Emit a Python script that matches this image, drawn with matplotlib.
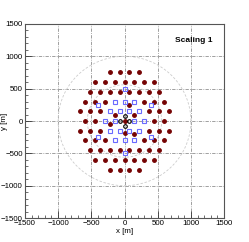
import matplotlib
matplotlib.use("Agg")
import matplotlib.pyplot as plt
import numpy as np

# SST (dark red dots)
sst_x = [-225, -75, 75, 225,
         -450, -300, -150, 0, 150, 300, 450,
         -525, -375, -225, -75, 75, 225, 375, 525,
         -600, -450, -300, 300, 450, 600,
         -675, -525, -375, 375, 525, 675,
         -600, -450, 0, 450, 600,
         -675, -525, -375, 375, 525, 675,
         -600, -450, -300, 300, 450, 600,
         -525, -375, -225, -75, 75, 225, 375, 525,
         -450, -300, -150, 0, 150, 300, 450,
         -225, -75, 75, 225,
         75, -150, 150, -225, 150, 0]
sst_y = [750, 750, 750, 750,
         600, 600, 600, 600, 600, 600, 600,
         450, 450, 450, 450, 450, 450, 450, 450,
         300, 300, 300, 300, 300, 300,
         150, 150, 150, 150, 150, 150,
         0, 0, 0, 0, 0,
         -150, -150, -150, -150, -150, -150,
         -300, -300, -300, -300, -300, -300,
         -450, -450, -450, -450, -450, -450, -450, -450,
         -600, -600, -600, -600, -600, -600, -600,
         -750, -750, -750, -750,
         250, 100, 100, -50, -200, -190]

# MST (blue open squares)
mst_x = [0, -400, 400, -150, 0, 150, -225, -75, 75, 225, -300, -150, 150, 300,
         -225, -75, 75, 225, -150, 0, 150, -400, 400, 0]
mst_y = [500, 250, 250, 300, 300, 300, 150, 150, 150, 150, 0, 0, 0, 0,
         -150, -150, -150, -150, -300, -300, -300, -250, -250, -500]

# LST (black open circles)
lst_x = [0, -75, 75, 0]
lst_y = [80, 0, 0, -80]

circle_r = [560, 1000]
ticks = [-1500, -1000, -500, 0, 500, 1000, 1500]
tick_labels = ['\u22121500', '\u22121000', '\u2212500', '0', '500', '1000', '1500']

plt.rcParams['font.family'] = ['Liberation Sans', 'DejaVu Sans']
fig = plt.figure(figsize=(2.49, 2.42), dpi=100)
ax = fig.add_axes([0.100, 0.099, 0.800, 0.802])
ax.set_xlim(-1500, 1500)
ax.set_ylim(-1500, 1500)

for t in ticks[1:-1]:
    ax.axvline(t, color='#909090', lw=0.6, ls=(0, (4, 1.5, 1, 1.5)), zorder=0)
    ax.axhline(t, color='#909090', lw=0.6, ls=(0, (4, 1.5, 1, 1.5)), zorder=0)

th = np.linspace(0, 2 * np.pi, 400)
for r in circle_r:
    ax.plot(r * np.cos(th), r * np.sin(th), color='#cccccc', lw=0.6,
            ls=(0, (3, 2)), zorder=0)

ax.plot(sst_x, sst_y, 'o', color='#750303', ms=2.5, mec='#750303', zorder=3)
ax.plot(mst_x, mst_y, 's', mfc='none', mec='#6a6aff', ms=3.0, mew=0.8, zorder=3)
ax.plot(lst_x, lst_y, 'o', mfc='none', mec='black', ms=2.6, mew=0.8, zorder=4)

ax.set_xticks(ticks)
ax.set_yticks(ticks)
ax.set_xticklabels(tick_labels)
ax.set_yticklabels(tick_labels)
ax.set_xticks(np.arange(-1500, 1501, 100), minor=True)
ax.set_yticks(np.arange(-1500, 1501, 100), minor=True)
ax.tick_params(which='major', direction='in', length=5, width=0.6, labelsize=5.7,
               pad=1.5, top=False, right=False, colors='#333333', labelcolor='black')
ax.tick_params(which='minor', direction='in', length=2.5, width=0.5, top=False, right=False,
               colors='#333333')
for s in ax.spines.values():
    s.set_linewidth(0.8)
    s.set_color('#555555')

ax.set_xlabel('x [m]', fontsize=5.7, labelpad=0.5)
ax.set_ylabel('y [m]', fontsize=5.7)
ax.yaxis.set_label_coords(-0.085, 0.5)
ax.text(1050, 1240, 'Scaling 1', fontsize=6, fontweight='bold', ha='center', va='center')

fig.savefig('out.png', dpi=100)
